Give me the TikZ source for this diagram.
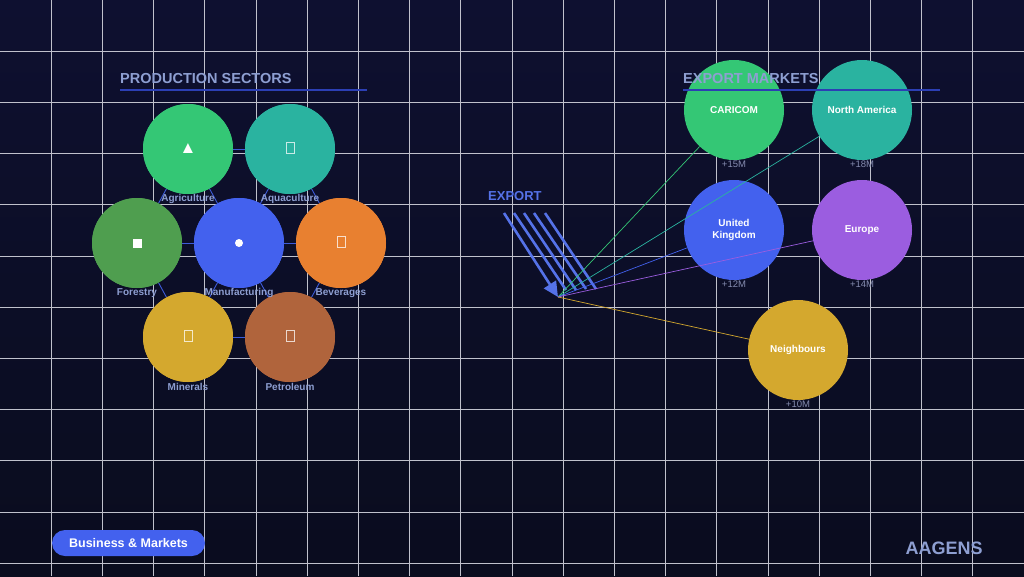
\documentclass[tikz,border=0pt]{standalone}
\usepackage{fontspec}
\setmainfont{Liberation Sans}
\usetikzlibrary{arrows.meta}
\definecolor{bgtop}{HTML}{0E1030}
\definecolor{bgbot}{HTML}{0A0C1E}
\definecolor{gridc}{HTML}{C0C1CC}
\definecolor{labc}{HTML}{8E9FD2}
\definecolor{valc}{HTML}{858CB0}
\definecolor{linkc}{HTML}{3D5BD9}
\definecolor{ulc}{HTML}{2C3FB4}
\definecolor{cgreen}{HTML}{34C775}
\definecolor{cteal}{HTML}{2AB3A0}
\definecolor{cforest}{HTML}{4F9E4F}
\definecolor{cblue}{HTML}{4361EE}
\definecolor{corange}{HTML}{E88030}
\definecolor{cgold}{HTML}{D4A82E}
\definecolor{cbrown}{HTML}{B0643C}
\definecolor{cpurple}{HTML}{9B5DE0}
\definecolor{expc}{HTML}{5572E8}
\tikzset{
  sector/.style={circle, minimum size=90pt, inner sep=0pt, fill=#1},
  market/.style={circle, minimum size=100pt, inner sep=0pt, fill=#1, text=white, font=\fontsize{10}{12}\selectfont\bfseries, align=center},
  seclabel/.style={text=labc, font=\fontsize{10}{12}\selectfont\bfseries, inner sep=0pt},
  vallabel/.style={text=valc, font=\fontsize{9.5}{11}\selectfont, inner sep=0pt},
  link/.style={draw=linkc, line width=0.9pt},
  title/.style={text=labc, font=\fontsize{14.5}{16}\selectfont\bfseries, anchor=base west, inner sep=0pt},
  tofu/.style={draw=white, draw opacity=0.75, line width=0.8pt, minimum width=8pt, minimum height=11pt, inner sep=0pt},
  exline/.style={draw=expc, line width=2.6pt},
  mlink/.style={draw=#1, line width=0.7pt},
}
\begin{document}
\begin{tikzpicture}[x=1pt,y=-1pt]
\useasboundingbox (0,0) rectangle (1024,576);
\shade[top color=bgtop, bottom color=bgbot] (0,0) rectangle (1024,576);
% grid
\foreach \i in {1,...,19} {\draw[gridc, line width=1pt] ({51.2*\i},0) -- ({51.2*\i},576);}
\foreach \j in {1,...,11} {\draw[gridc, line width=1pt] (0,{51.2*\j}) -- (1024,{51.2*\j});}

% sector nodes
\node[sector=cgreen] (agr) at (188,149) {};
\node[sector=cteal] (aqu) at (290,149) {};
\node[sector=cforest] (for) at (137,243) {};
\node[sector=cblue] (man) at (239,243) {};
\node[sector=corange] (bev) at (341,243) {};
\node[sector=cgold] (min) at (188,337) {};
\node[sector=cbrown] (pet) at (290,337) {};
% links (drawn, then circles redrawn on top)
\foreach \a/\b in {agr/aqu, for/man, man/bev, min/pet, agr/for, agr/man, aqu/man, aqu/bev, for/min, man/min, man/pet, bev/pet}
  {\draw[link] (\a) -- (\b);}
\node[sector=cgreen] at (agr) {};
\node[sector=cteal] at (aqu) {};
\node[sector=cforest] at (for) {};
\node[sector=cblue] at (man) {};
\node[sector=corange] at (bev) {};
\node[sector=cgold] at (min) {};
\node[sector=cbrown] at (pet) {};
% icons
\node[text=white, font=\fontsize{17}{17}\selectfont, inner sep=0pt] (iagr) at (188,149) {▲};
\node[fill=white, minimum size=9pt, inner sep=0pt] (ifor) at (137,243) {};
\node[circle, fill=white, minimum size=8pt, inner sep=0pt] (iman) at (239,243) {};
\node[tofu] (iaqu) at (290,148) {};
\node[tofu] (ibev) at (341,242) {};
\node[tofu] (imin) at (188,336) {};
\node[tofu] (ipet) at (290,336) {};
% sector labels
\node[seclabel] (lagr) at (188,199) {Agriculture};
\node[seclabel] (laqu) at (290,199) {Aquaculture};
\node[seclabel] (lfor) at (137,293) {Forestry};
\node[seclabel] (lman) at (239,293) {Manufacturing};
\node[seclabel] (lbev) at (341,293) {Beverages};
\node[seclabel] (lmin) at (188,387) {Minerals};
\node[seclabel] (lpet) at (290,387) {Petroleum};

% export arrow
\node[text=expc, font=\fontsize{13}{15}\selectfont\bfseries, anchor=base west, inner sep=0pt] (export) at (488,200) {EXPORT};
\coordinate (o) at (558,297);
\coordinate (s1) at (504,213);
\coordinate (s2) at (514,213); \coordinate (e2) at (566,290);
\coordinate (s3) at (524,213); \coordinate (e3) at (576,290);
\coordinate (s4) at (534,213); \coordinate (e4) at (586,289);
\coordinate (s5) at (545,213); \coordinate (e5) at (596,289);
\draw[exline, -{Triangle[length=15pt,width=14pt]}] (s1) -- (o);
\draw[exline] (s2) -- (e2);
\draw[exline] (s3) -- (e3);
\draw[exline] (s4) -- (e4);
\draw[exline] (s5) -- (e5);

% markets
\node[market=cgreen] (car) at (734,110) {CARICOM};
\node[market=cteal] (nam) at (862,110) {North America};
\node[market=cblue] (uk) at (734,230) {United\\Kingdom};
\node[market=cpurple] (eur) at (862,230) {Europe};
\node[market=cgold] (nei) at (798,350) {Neighbours};
\draw[mlink=cgreen] (o) -- (car);
\draw[mlink=cteal] (o) -- (nam);
\draw[mlink=cblue] (o) -- (uk);
\draw[mlink=cpurple] (o) -- (eur);
\draw[mlink=cgold] (o) -- (nei);
\node[vallabel] (vcar) at (734,164) {+15M};
\node[vallabel] (vnam) at (862,164) {+18M};
\node[vallabel] (vuk) at (734,284) {+12M};
\node[vallabel] (veur) at (862,284) {+14M};
\node[vallabel] (vnei) at (798,404) {+10M};

% titles
\node[title] (t1) at (120,83) {PRODUCTION SECTORS};
\draw[ulc, line width=2pt] (120,89.5) -- (367,89.5);
\node[title] (t2) at (683,83) {EXPORT MARKETS};
\draw[ulc, line width=2pt] (683,90) -- (940,90);

% footer
\node[fill=cblue, rounded corners=13pt, minimum width=153pt, minimum height=26pt, inner sep=0pt, text=white, font=\fontsize{12.5}{14}\selectfont\bfseries] (pill) at (128.5,543) {Business \& Markets};
\node[text=labc, font=\fontsize{18}{20}\selectfont\bfseries, inner sep=0pt] (brand) at (944,548) {AAGENS};
\end{tikzpicture}
\end{document}
